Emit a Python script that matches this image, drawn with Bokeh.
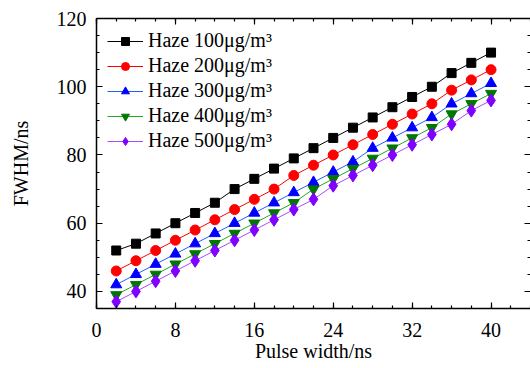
from bokeh.plotting import figure
from bokeh.models import (LinearAxis, SingleIntervalTicker, Legend, LegendItem, Range1d,
                          CustomLabelingPolicy)
from bokeh.embed import file_html
from bokeh.resources import INLINE

pulse_width = [2, 4, 6, 8, 10, 12, 14, 16, 18, 20, 22, 24, 26, 28, 30, 32, 34, 36, 38, 40]
haze_100 = [52, 54, 57, 60, 63, 66, 70, 73, 76, 79, 82, 85, 88, 91, 94, 97, 100, 104, 107, 110]
haze_200 = [46, 49, 52, 55, 58, 61, 64, 67, 70, 74, 77, 80, 83, 86, 89, 92, 95, 99, 102, 105]
haze_300 = [42, 45, 48, 51, 54, 57, 60, 63, 66, 69, 72, 75, 78, 82, 85, 88, 91, 95, 98, 101]
haze_400 = [39, 42, 45, 48, 51, 54, 57, 60, 63, 66, 70, 73, 76, 79, 82, 85, 88, 92, 95, 98]
haze_500 = [37, 40, 43, 46, 49, 52, 55, 58, 61, 64, 67, 71, 74, 77, 80, 83, 86, 89, 93, 96]
labels = ["Haze 100\u03bcg/m\u00b3", "Haze 200\u03bcg/m\u00b3", "Haze 300\u03bcg/m\u00b3",
          "Haze 400\u03bcg/m\u00b3", "Haze 500\u03bcg/m\u00b3"]

FONT = "Liberation Serif"

p = figure(width=530, height=368, output_backend="svg", toolbar_location=None,
           x_range=Range1d(0, 44), y_range=Range1d(35, 120),
           min_border_left=96, min_border_top=18, min_border_bottom=60, min_border_right=0)
p.outline_line_color = None
p.grid.visible = False
p.background_fill_color = "white"
p.border_fill_color = "white"

p.xaxis.ticker = SingleIntervalTicker(interval=8, num_minor_ticks=4)
p.yaxis.ticker = SingleIntervalTicker(interval=20, num_minor_ticks=4)

def style(ax):
    ax.axis_line_width = 1.5
    ax.axis_line_color = "black"
    ax.major_tick_in = 6
    ax.major_tick_out = 0
    ax.minor_tick_in = 3
    ax.minor_tick_out = 0
    ax.major_tick_line_width = 1.2
    ax.minor_tick_line_width = 1.2
    ax.major_label_text_font = FONT
    ax.major_label_text_font_size = "20px"
    ax.major_label_text_color = "black"
    ax.axis_label_text_font = FONT
    ax.axis_label_text_font_size = "20px"
    ax.axis_label_text_font_style = "normal"
    ax.axis_label_text_color = "black"

for ax in p.xaxis + p.yaxis:
    style(ax)
p.xaxis.axis_label = "Pulse width/ns"
p.yaxis.axis_label = "FWHM/ns"
p.xaxis.major_label_standoff = 14
p.yaxis.major_label_standoff = 10
p.xaxis.axis_label_standoff = 0
p.yaxis.axis_label_standoff = 22

HIDE = """
const keep = Array.from(indices);
for (const i of keep) { indices.unset(i); }
return indices;
"""

top = LinearAxis(ticker=SingleIntervalTicker(interval=8, num_minor_ticks=4))
style(top)
top.major_label_policy = CustomLabelingPolicy(code=HIDE)
top.major_label_text_font_size = "0px"
top.major_label_standoff = 0
p.add_layout(top, "above")
right = LinearAxis(ticker=SingleIntervalTicker(interval=20, num_minor_ticks=4))
style(right)
right.major_label_policy = CustomLabelingPolicy(code=HIDE)
right.major_label_text_font_size = "0px"
right.major_label_standoff = 0
right.axis_line_alpha = 0
p.add_layout(right, "right")

series = [haze_100, haze_200, haze_300, haze_400, haze_500]
line_colors = ["black", "red", "#1f5fff", "#1faa1f", "#a64dff"]
marker_colors = ["black", "red", "blue", "#007700", "#8000ff"]
markers = ["square", "circle", "triangle", "inverted_triangle", "diamond"]
sizes = [9, 10, 11, 11, 13]

items = []
for ys, lc, mc, mk, sz, lab in zip(series, line_colors, marker_colors, markers, sizes, labels):
    r1 = p.line(pulse_width, ys, line_color=lc, line_width=1)
    r2 = p.scatter(pulse_width, ys, marker=mk, size=sz, fill_color=mc, line_color=mc)
    items.append(LegendItem(label=lab, renderers=[r1, r2]))

leg = Legend(items=items, location="top_left")
leg.background_fill_alpha = 0
leg.border_line_color = None
leg.label_text_font = FONT
leg.label_text_font_size = "20px"
leg.label_text_color = "black"
leg.glyph_width = 36
leg.glyph_height = 20
leg.label_height = 20
leg.spacing = 2
leg.margin = 11
leg.padding = 0
leg.label_standoff = 5
p.add_layout(leg)

open("out.html", "w").write(file_html(p, INLINE))
